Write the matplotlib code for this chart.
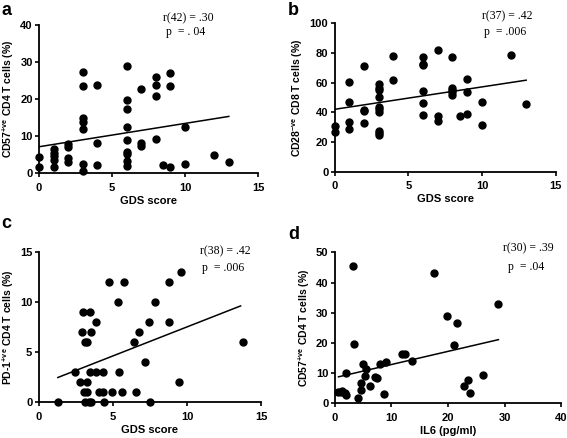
import numpy as np
import matplotlib
matplotlib.use('Agg')
import matplotlib.pyplot as plt

plt.rcParams['font.family'] = ['Liberation Sans', 'DejaVu Sans']
plt.rcParams['mathtext.fontset'] = 'custom'
plt.rcParams['mathtext.rm'] = 'Liberation Sans'
plt.rcParams['mathtext.bf'] = 'Liberation Sans:bold'

# panel a: GDS score vs CD57+ve CD4 T cells
gds_a = [0, 0, 1, 1, 1, 1, 1, 2, 2, 2, 2, 3, 3, 3, 3, 3, 3, 3, 4, 4, 4,
         6, 6, 6, 6, 6, 6, 6, 6, 6, 7, 7, 7, 8, 8, 8, 8, 8.5, 9, 9, 9, 10, 10, 12, 13]
cd57_a = [4.2, 1.5, 6.5, 5.5, 4.5, 3.5, 1.7, 7.8, 7.0, 4.1, 3.0, 27.3, 23.5, 14.8, 13.7, 11.9, 2.3, 0.6,
          23.9, 8.2, 2.1, 29.0, 19.6, 17.4, 12.5, 8.9, 5.6, 5.1, 3.2, 2.0, 22.8, 8.2, 7.4,
          26.0, 23.8, 20.9, 9.1, 2.2, 27.1, 23.4, 1.6, 12.3, 2.5, 4.9, 3.1]
fit_a = [7.1, 0.63, 0, 13]  # intercept, slope, x from, x to

# panel b: GDS score vs CD28-ve CD8 T cells
gds_b = [0, 0, 1, 1, 1, 1, 2, 2, 2, 2, 3, 3, 3, 3, 3, 3, 3, 3, 3, 3, 4, 4,
         6, 6, 6, 6, 6, 6, 7, 7, 7, 8, 8, 8, 8, 8, 8.5, 9, 9, 9, 10, 10, 12, 13]
cd28_b = [30.8, 26.5, 60.7, 47.2, 33.5, 28.5, 71.5, 41.6, 40.9, 32.6,
          58.9, 56.4, 55.1, 50.6, 43.8, 42.2, 40.2, 27.4, 26.1, 24.7, 77.8, 61.6,
          77.1, 72.8, 71.9, 54.6, 46.5, 38.2, 82.0, 37.5, 34.2,
          77.5, 56.6, 55.1, 53.9, 51.7, 37.8, 62.7, 53.5, 39.1, 47.2, 31.5, 78.9, 45.6]
fit_b = [42.0, 1.51, 0, 13]

# panel c: GDS score vs PD-1+ve CD4 T cells
gds_c = [1.30, 2.47, 2.76, 2.92, 2.97, 3.15, 3.26, 3.08, 3.26, 3.26, 3.10, 3.37, 3.50,
         3.44, 3.53, 3.44, 3.89, 3.87, 4.09, 4.31, 4.34, 4.43, 4.72, 4.94, 5.33, 5.39,
         5.62, 5.73, 6.45, 6.58, 6.79, 7.19, 7.42, 7.53, 7.82, 8.76, 8.79, 9.44, 9.62, 13.75]
pd1_c = [0, 3, 2, 7, 9, 6, 6, 1, 1, 2, 0, 0, 0,
         9, 7, 3, 8, 3, 1, 1, 3, 0, 12, 1, 10, 3,
         1, 12, 6, 1, 7, 4, 8, 0, 10, 12, 8, 2, 13, 6]
fit_c = [1.70, 0.581, 1.3, 13.6]

# panel d: IL6 vs CD57+ve CD4 T cells
il6_d = [0.7, 1.2, 1.4, 1.8, 2.0, 2.0, 3.2, 3.5, 4.1, 4.7, 4.7, 5.0, 5.3, 5.6, 6.3,
         7.1, 7.5, 8.1, 8.8, 9.1, 11.9, 12.4, 13.6, 17.5, 19.8, 21.0, 21.6,
         22.9, 23.5, 23.9, 26.1, 28.9]
cd57_d = [3.9, 3.8, 4.1, 3.5, 2.8, 10.1, 45.4, 19.7, 1.9, 6.6, 4.4, 13.2, 9.0, 11.3, 5.9,
          8.8, 8.5, 13.2, 3.0, 13.8, 16.2, 16.2, 14.1, 43.0, 28.9, 19.3, 26.7,
          5.6, 7.7, 3.6, 9.4, 33.0]
fit_d = [8.49, 0.436, 0.7, 28.9]

panels = [
    dict(x=gds_a, y=cd57_a, fit=fit_a, xlim=15, xticks=[0, 5, 10, 15], ylim=40, yticks=[0, 10, 20, 30, 40],
         xlabel='GDS score', ylabel=r'CD57$^{\mathbf{+ve}}$ CD4 T cells (%)',
         r='r(42) = .30', p='p  = . 04', rpos=(0.68, 1.047, 0.953),
         rect=[0.069, 0.605, 0.386, 0.338], tag='a', tagpos=(0.003, 0.975)),
    dict(x=gds_b, y=cd28_b, fit=fit_b, xlim=15, xticks=[0, 5, 10, 15], ylim=100, yticks=[0, 20, 40, 60, 80, 100],
         xlabel='GDS score', ylabel=r'CD28$^{\mathbf{-ve}}$ CD8 T cells (%)',
         r='r(37) = .42', p='p  = .006', rpos=(0.78, 1.045, 0.943),
         rect=[0.590, 0.608, 0.390, 0.339], tag='b', tagpos=(0.508, 0.975)),
    dict(x=gds_c, y=pd1_c, fit=fit_c, xlim=15, xticks=[0, 5, 10, 15], ylim=15, yticks=[0, 5, 10, 15],
         xlabel='GDS score', ylabel=r'PD-1$^{\mathbf{+ve}}$ CD4 T cells (%)',
         r='r(38) = .42', p='p  = .006', rpos=(0.838, 1.005, 0.894),
         rect=[0.068, 0.082, 0.393, 0.343], tag='c', tagpos=(0.003, 0.49)),
    dict(x=il6_d, y=cd57_d, fit=fit_d, xlim=40, xticks=[0, 10, 20, 30, 40], ylim=50, yticks=[0, 10, 20, 30, 40, 50],
         xlabel='IL6 (pg/ml)', ylabel=r'CD57$^{\mathbf{+ve}}$ CD4 T cells (%)',
         r='r(30) = .39', p='p  = .04', rpos=(0.856, 1.024, 0.903),
         rect=[0.590, 0.079, 0.400, 0.345], tag='d', tagpos=(0.508, 0.465)),
]

fig = plt.figure(figsize=(5.67, 4.38), dpi=100)

for pn in panels:
    ax = fig.add_axes(pn['rect'])
    ax.plot(pn['x'], pn['y'], 'o', color='black', markersize=5, clip_on=False, zorder=3)
    b0, b1, xs, xe = pn['fit']
    fx = np.array([xs, xe])
    ax.plot(fx, b0 + b1 * fx, color='black', lw=1.1)
    ax.set_xlim(0, pn['xlim'])
    ax.set_ylim(0, pn['ylim'])
    ax.set_xticks(pn['xticks'])
    ax.set_yticks(pn['yticks'])
    for s in ['top', 'right']:
        ax.spines[s].set_visible(False)
    for s in ['left', 'bottom']:
        ax.spines[s].set_linewidth(1.3)
    ax.tick_params(direction='out', length=3, width=1.2, labelsize=8, pad=1.5)
    ax.tick_params(axis='x', pad=4)
    for lab in ax.get_xticklabels() + ax.get_yticklabels():
        lab.set_fontweight('bold')
    ax.set_xlabel(pn['xlabel'], fontsize=8, fontweight='bold', labelpad=2)
    ax.set_ylabel(pn['ylabel'], fontsize=7.5, fontweight='bold', labelpad=3)
    xr, yr, yp = pn['rpos']
    ax.text(xr, yr, pn['r'], transform=ax.transAxes, ha='center', va='center',
            fontsize=8.5, family='Liberation Serif')
    ax.text(xr - 0.01, yp, pn['p'], transform=ax.transAxes, ha='center', va='center',
            fontsize=8.5, family='Liberation Serif')
    fig.text(pn['tagpos'][0], pn['tagpos'][1], pn['tag'], fontsize=13, fontweight='bold',
             ha='left', va='center')

fig.savefig('out.png', dpi=100)
